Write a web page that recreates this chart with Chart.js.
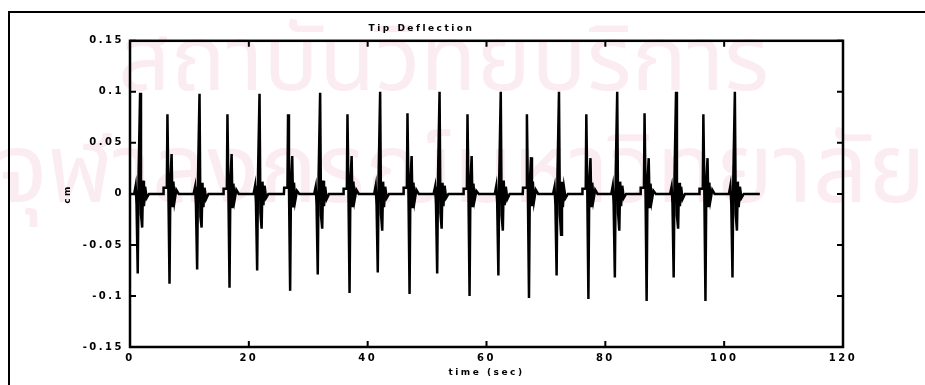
<!DOCTYPE html>
<html>
<head>
<meta charset="utf-8">
<script src="https://cdn.jsdelivr.net/npm/chart.js@4.4.0/dist/chart.umd.min.js"></script>
<style>
  html, body { margin: 0; padding: 0; background: #fff; }
  #wrap { position: relative; width: 925px; height: 385px; overflow: hidden; }
  #frame { position: absolute; left: 8px; top: 11px; right: -10px; bottom: -10px;
           border-left: 2px solid #000; border-top: 2px solid #000; z-index: 2; pointer-events: none; }
</style>
</head>
<body>
<div id="wrap">
  <canvas id="chart" width="925" height="385" style="width:925px;height:385px"></canvas>
  <div id="frame"></div>
</div>
<script>
const time = [0,
  0.7, 0.95, 1.1, 1.3, 1.45, 1.7, 1.85, 2.05, 2.2, 2.35, 2.55, 2.8, 3.2,
  5.6, 5.65, 6.2, 6.3, 6.45, 6.65, 6.8, 7.0, 7.15, 7.3, 7.5, 7.8, 8.2,
  10.7, 10.95, 11.1, 11.3, 11.45, 11.7, 11.85, 12.05, 12.2, 12.35, 12.55, 12.8, 13.2,
  15.7, 15.75, 16.3, 16.4, 16.55, 16.75, 16.9, 17.1, 17.25, 17.4, 17.6, 17.9, 18.3,
  20.8, 21.05, 21.2, 21.4, 21.55, 21.8, 21.95, 22.15, 22.3, 22.45, 22.65, 22.9, 23.3,
  25.9, 25.95, 26.5, 26.6, 26.75, 26.95, 27.1, 27.3, 27.45, 27.6, 27.8, 28.1, 28.5,
  31.0, 31.25, 31.4, 31.6, 31.75, 32.0, 32.15, 32.35, 32.5, 32.65, 32.85, 33.1, 33.5,
  35.9, 35.95, 36.5, 36.6, 36.75, 36.95, 37.1, 37.3, 37.45, 37.6, 37.8, 38.1, 38.5,
  41.1, 41.35, 41.5, 41.7, 41.85, 42.1, 42.25, 42.45, 42.6, 42.75, 42.95, 43.2, 43.6,
  46.0, 46.05, 46.6, 46.7, 46.85, 47.05, 47.2, 47.4, 47.55, 47.7, 47.9, 48.2, 48.6,
  51.1, 51.35, 51.5, 51.7, 51.85, 52.1, 52.25, 52.45, 52.6, 52.75, 52.95, 53.2, 53.6,
  56.1, 56.15, 56.7, 56.8, 56.95, 57.15, 57.3, 57.5, 57.65, 57.8, 58.0, 58.3, 58.7,
  61.4, 61.65, 61.8, 62.0, 62.15, 62.4, 62.55, 62.75, 62.9, 63.05, 63.25, 63.5, 63.9,
  66.1, 66.15, 66.7, 66.8, 66.95, 67.15, 67.3, 67.5, 67.65, 67.8, 68.0, 68.3, 68.7,
  71.2, 71.45, 71.6, 71.8, 71.95, 72.2, 72.35, 72.55, 72.7, 72.85, 73.05, 73.3, 73.7,
  76.1, 76.15, 76.7, 76.8, 76.95, 77.15, 77.3, 77.5, 77.65, 77.8, 78.0, 78.3, 78.7,
  81.0, 81.25, 81.4, 81.6, 81.75, 82.0, 82.15, 82.35, 82.5, 82.65, 82.85, 83.1, 83.5,
  85.9, 85.95, 86.5, 86.6, 86.75, 86.95, 87.1, 87.3, 87.45, 87.6, 87.8, 88.1, 88.5,
  90.9, 91.15, 91.3, 91.5, 91.65, 91.9, 92.05, 92.25, 92.4, 92.55, 92.75, 93.0, 93.4,
  95.8, 95.85, 96.4, 96.5, 96.65, 96.85, 97.0, 97.2, 97.35, 97.5, 97.7, 98.0, 98.4,
  100.8, 101.05, 101.2, 101.4, 101.55, 101.8, 101.95, 102.15, 102.3, 102.45, 102.65, 102.9, 103.3,
  106];

const deflection = [0,
  0, 0.008, -0.010, -0.078, 0.020, 0.099, -0.020, -0.033, 0.013, -0.012, 0.007, -0.004, 0,
  0, 0.006, 0.006, 0.078, 0.010, -0.088, 0.012, 0.039, -0.013, 0.012, -0.007, 0.004, 0,
  0, 0.007, -0.011, -0.074, 0.018, 0.098, -0.022, -0.033, 0.011, -0.013, 0.006, -0.005, 0,
  0, 0.005, 0.005, 0.078, 0.009, -0.092, 0.011, 0.039, -0.014, 0.010, -0.006, 0.004, 0,
  0, 0.008, -0.009, -0.075, 0.021, 0.098, -0.019, -0.034, 0.012, -0.011, 0.008, -0.004, 0,
  0, 0.006, 0.006, 0.078, 0.010, -0.095, 0.012, 0.037, -0.012, 0.011, -0.007, 0.003, 0,
  0, 0.007, -0.010, -0.079, 0.019, 0.099, -0.021, -0.034, 0.013, -0.012, 0.007, -0.005, 0,
  0, 0.005, 0.005, 0.078, 0.011, -0.097, 0.010, 0.037, -0.013, 0.012, -0.006, 0.004, 0,
  0, 0.008, -0.011, -0.077, 0.020, 0.100, -0.020, -0.036, 0.012, -0.013, 0.007, -0.004, 0,
  0, 0.006, 0.006, 0.079, 0.010, -0.098, 0.012, 0.037, -0.014, 0.011, -0.007, 0.004, 0,
  0, 0.007, -0.010, -0.078, 0.021, 0.100, -0.019, -0.034, 0.011, -0.012, 0.008, -0.004, 0,
  0, 0.005, 0.005, 0.078, 0.009, -0.100, 0.011, 0.037, -0.013, 0.010, -0.006, 0.003, 0,
  0, 0.008, -0.009, -0.080, 0.019, 0.100, -0.021, -0.036, 0.013, -0.011, 0.007, -0.005, 0,
  0, 0.006, 0.006, 0.078, 0.010, -0.102, 0.012, 0.036, -0.012, 0.012, -0.007, 0.004, 0,
  0, 0.007, -0.011, -0.080, 0.020, 0.100, -0.020, -0.040, 0.012, -0.013, 0.006, -0.004, 0,
  0, 0.005, 0.005, 0.078, 0.011, -0.103, 0.010, 0.035, -0.013, 0.011, -0.006, 0.004, 0,
  0, 0.008, -0.010, -0.082, 0.021, 0.100, -0.019, -0.036, 0.012, -0.012, 0.008, -0.004, 0,
  0, 0.006, 0.006, 0.079, 0.010, -0.105, 0.012, 0.035, -0.014, 0.010, -0.007, 0.003, 0,
  0, 0.007, -0.009, -0.082, 0.019, 0.100, -0.021, -0.034, 0.011, -0.012, 0.007, -0.005, 0,
  0, 0.005, 0.005, 0.078, 0.009, -0.105, 0.011, 0.035, -0.013, 0.011, -0.006, 0.004, 0,
  0, 0.008, -0.010, -0.082, 0.020, 0.100, -0.020, -0.036, 0.012, -0.013, 0.007, -0.004, 0,
  0];

const xTickLabels = ['0', '20', '40', '60', '80', '100', '120'];
const yTickLabels = ['-0.15', '-0.1', '-0.05', '0', '0.05', '0.1', '0.15'];
const watermarkLines = ['สถาบันวิทยบริการ', 'จุฬาลงกรณ์มหาวิทยาลัย'];

Chart.defaults.font.family = "'DejaVu Sans', sans-serif";
Chart.defaults.font.size = 10;
Chart.defaults.font.weight = 'bold';
Chart.defaults.color = '#000';

// scan watermark behind, matlab style box with inward ticks on top
const scanLook = {
  id: 'scanLook',
  beforeDraw(chart) {
    const c = chart.ctx;
    c.save();
    c.fillStyle = '#fbecf1';
    c.textBaseline = 'alphabetic';
    c.font = "92px 'Noto Sans Thai', 'Loma', 'Garuda', sans-serif";
    c.fillText(watermarkLines[0], 118, 90);
    c.font = "97px 'Noto Sans Thai', 'Loma', 'Garuda', sans-serif";
    c.fillText(watermarkLines[1], -4, 202);
    c.restore();
    c.letterSpacing = '2.5px';
  },
  afterDraw(chart) {
    const {ctx: c, chartArea: a, scales: {x, y}} = chart;
    c.save();
    c.strokeStyle = '#000';
    c.lineWidth = 2.5;
    c.strokeRect(a.left, a.top, a.right - a.left, a.bottom - a.top);
    c.lineWidth = 2;
    c.beginPath();
    x.ticks.forEach(t => {
      const p = x.getPixelForValue(t.value);
      c.moveTo(p, a.bottom); c.lineTo(p, a.bottom - 6);
      c.moveTo(p, a.top); c.lineTo(p, a.top + 6);
    });
    y.ticks.forEach(t => {
      const p = y.getPixelForValue(t.value);
      c.moveTo(a.left, p); c.lineTo(a.left + 6, p);
      c.moveTo(a.right, p); c.lineTo(a.right - 6, p);
    });
    c.stroke();
    c.restore();
  }
};

new Chart(document.getElementById('chart'), {
  type: 'line',
  data: {
    datasets: [{
      data: time.map((t, i) => ({x: t, y: deflection[i]})),
      borderColor: '#000',
      borderWidth: 2.5,
      pointRadius: 0,
      tension: 0,
      fill: false
    }]
  },
  options: {
    responsive: false,
    animation: false,
    layout: {padding: {left: 0, right: 82, top: 0, bottom: 0}},
    plugins: {
      legend: {display: false},
      tooltip: {enabled: false},
      title: {
        display: true,
        text: 'Tip Deflection',
        font: {size: 9, weight: 'bold'},
        padding: {top: 23, bottom: 7}
      }
    },
    scales: {
      x: {
        type: 'linear',
        min: 0, max: 120,
        grid: {display: false, drawTicks: false},
        border: {display: false},
        ticks: {stepSize: 20, padding: 5, maxRotation: 0,
                callback: (v, i) => xTickLabels[i]},
        title: {display: true, text: 'time (sec)', font: {size: 9}, padding: {top: 0, bottom: 7}},
        afterFit(scale) { scale.height = 38; }
      },
      y: {
        min: -0.15, max: 0.15,
        grid: {display: false, drawTicks: false},
        border: {display: false},
        ticks: {stepSize: 0.05, padding: 6,
                callback: (v, i) => yTickLabels[i]},
        title: {display: true, text: 'cm', font: {size: 9}, padding: {top: 62, bottom: 0}},
        afterFit(scale) { scale.width = 130; }
      }
    }
  },
  plugins: [scanLook]
});
</script>
</body>
</html>
